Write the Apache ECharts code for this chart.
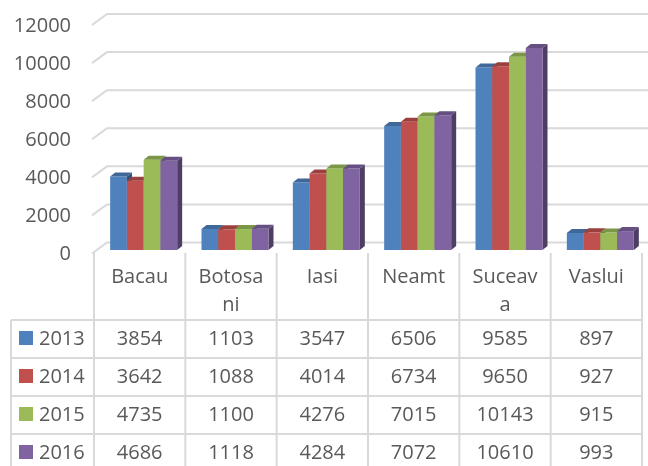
<!DOCTYPE html>
<html>
<head>
<meta charset="utf-8">
<script src="https://cdn.jsdelivr.net/npm/echarts@6/dist/echarts.min.js"></script>
<style>
  html, body { margin: 0; padding: 0; background: #fff; }
  #main { width: 648px; height: 466px; }
</style>
</head>
<body>
<div id="main"></div>
<script>
var categories = ['Bacau', 'Botosani', 'Iasi', 'Neamt', 'Suceava', 'Vaslui'];
var years = ['2013', '2014', '2015', '2016'];
var v2013 = [3854, 1103, 3547, 6506, 9585, 897];
var v2014 = [3642, 1088, 4014, 6734, 9650, 927];
var v2015 = [4735, 1100, 4276, 7015, 10143, 915];
var v2016 = [4686, 1118, 4284, 7072, 10610, 993];
var yTicks = [0, 2000, 4000, 6000, 8000, 10000, 12000];

var allValues = [v2013, v2014, v2015, v2016];
var colors = ['#4F81BD', '#C0504D', '#9BBB59', '#8064A2'];
var FONT = '"Open Sans", sans-serif';
var TXT = '#595959';
var LINE = '#d9d9d9';

function shade(hex, f) {
    var n = parseInt(hex.slice(1), 16);
    var r = Math.round(((n >> 16) & 255) * f);
    var g = Math.round(((n >> 8) & 255) * f);
    var b = Math.round((n & 255) * f);
    return 'rgb(' + r + ',' + g + ',' + b + ')';
}

// 3d-ish bar: front, top and side faces
function barItem(k) {
    return function (params, api) {
        var i = api.value(0);
        var v = api.value(1);
        var top = api.coord([i, v]);
        var base = api.coord([i, 0]);
        var bw = api.size([1, 0])[0];
        var w = bw * 0.1834;
        var x0 = top[0] - bw * 0.323 + k * w;
        var dx = 5, dy = 4;
        var col = colors[k];
        return {
            type: 'group',
            children: [
                { type: 'polygon', shape: { points: [[x0 + w, top[1]], [x0 + w + dx, top[1] - dy], [x0 + w + dx, base[1] - dy], [x0 + w, base[1]]] },
                  style: { fill: shade(col, 0.62) } },
                { type: 'rect', shape: { x: x0, y: top[1], width: w, height: base[1] - top[1] },
                  style: { fill: col } },
                { type: 'polygon', shape: { points: [[x0, top[1]], [x0 + w, top[1]], [x0 + w + dx, top[1] - dy], [x0 + dx, top[1] - dy]] },
                  style: { fill: shade(col, 0.8) } }
            ]
        };
    };
}

// back wall gridlines with the slanted stub, plus the value label in front
function gridItem(params, api) {
    var v = api.value(1);
    var y = api.coord([0, v])[1];
    var cs = params.coordSys;
    var fx = cs.x - 2, bx = cs.x + 13;
    return {
        type: 'group',
        children: [
            { type: 'polyline', shape: { points: [[fx, y + 3.5], [bx, y - 7.5], [648, y - 7.5]] },
              style: { stroke: LINE, lineWidth: 2, fill: null } },
            { type: 'text', style: { text: String(v), x: cs.x - 23, y: y + 4.5, align: 'right', verticalAlign: 'middle',
              font: '20px ' + FONT, fill: TXT } }
        ]
    };
}

var rowTops = [320, 358, 396, 434];
var rowH = 38;

function tableItem(params, api) {
    var i = api.value(0);
    var c = api.coord([i, 0]);
    var bw = api.size([1, 0])[0];
    var left = c[0] - bw / 2, right = c[0] + bw / 2;
    var ch = [];
    ch.push({ type: 'line', shape: { x1: left, y1: 253, x2: left, y2: 480 }, style: { stroke: LINE, lineWidth: 2 } });
    if (i === categories.length - 1) {
        ch.push({ type: 'line', shape: { x1: right, y1: 253, x2: right, y2: 480 }, style: { stroke: LINE, lineWidth: 2 } });
    }
    rowTops.forEach(function (t) {
        ch.push({ type: 'line', shape: { x1: left, y1: t, x2: right, y2: t }, style: { stroke: LINE, lineWidth: 2 } });
    });
    ch.push({ type: 'text', style: { text: categories[i], x: c[0], y: 263, width: 72, overflow: 'breakAll',
        align: 'center', verticalAlign: 'top', lineHeight: 28, font: '20px ' + FONT, fill: TXT } });
    allValues.forEach(function (arr, k) {
        ch.push({ type: 'text', style: { text: String(arr[i]), x: c[0], y: rowTops[k] + rowH / 2 + 0.5,
            align: 'center', verticalAlign: 'middle', font: '20px ' + FONT, fill: TXT } });
    });
    if (i === 0) {
        ch.push({ type: 'line', shape: { x1: 11, y1: 320, x2: 11, y2: 480 }, style: { stroke: LINE, lineWidth: 2 } });
        rowTops.forEach(function (t, k) {
            ch.push({ type: 'line', shape: { x1: 11, y1: t, x2: left, y2: t }, style: { stroke: LINE, lineWidth: 2 } });
            ch.push({ type: 'rect', shape: { x: 19, y: t + 11, width: 14, height: 14 }, style: { fill: colors[k] } });
            ch.push({ type: 'text', style: { text: years[k], x: 39, y: t + rowH / 2 + 0.5, align: 'left',
                verticalAlign: 'middle', font: '20px ' + FONT, fill: TXT } });
        });
    }
    return { type: 'group', children: ch };
}

var chart = echarts.init(document.getElementById('main'));

var series = [{
    type: 'custom',
    z: 1,
    silent: true,
    renderItem: gridItem,
    data: yTicks.map(function (v) { return [0, v]; })
}];
allValues.forEach(function (arr, k) {
    series.push({
        type: 'custom',
        name: years[k],
        z: 2,
        renderItem: barItem(k),
        data: arr.map(function (v, i) { return [i, v]; })
    });
});
series.push({
    type: 'custom',
    z: 3,
    silent: true,
    renderItem: tableItem,
    data: categories.map(function (c, i) { return [i, 0]; })
});

option = {
    animation: false,
    backgroundColor: '#fff',
    grid: { left: 94, right: 6, top: 21.5, bottom: 216 },
    xAxis: {
        type: 'category',
        data: categories,
        axisLine: { show: false },
        axisTick: { show: false },
        axisLabel: { show: false }
    },
    yAxis: {
        type: 'value',
        min: 0,
        max: 12000,
        interval: 2000,
        axisLine: { show: false },
        axisTick: { show: false },
        splitLine: { show: false },
        axisLabel: { show: false }
    },
    series: series
};

chart.setOption(option);
</script>
</body>
</html>
